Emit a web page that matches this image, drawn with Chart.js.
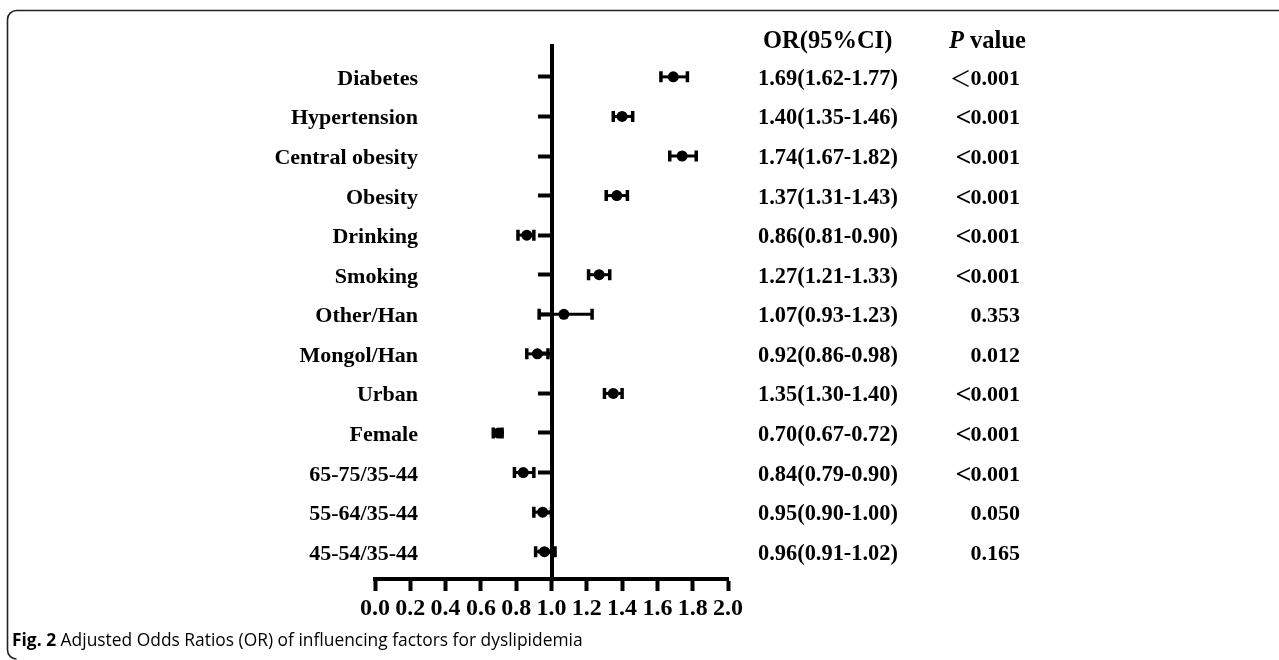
<!DOCTYPE html>
<html><head><meta charset="utf-8">
<script src="https://cdn.jsdelivr.net/npm/chart.js@4.4.1/dist/chart.umd.min.js"></script>
<style>html,body{margin:0;padding:0;background:#fff;overflow:hidden;} canvas{display:block;}</style>
</head><body>
<canvas id="c" width="1279" height="660"></canvas>
<script>
const categories = ["Diabetes","Hypertension","Central obesity","Obesity","Drinking","Smoking","Other/Han","Mongol/Han","Urban","Female","65-75/35-44","55-64/35-44","45-54/35-44"];
const orValues = [1.69,1.40,1.74,1.37,0.86,1.27,1.07,0.92,1.35,0.70,0.84,0.95,0.96];
const ciLower  = [1.62,1.35,1.67,1.31,0.81,1.21,0.93,0.86,1.30,0.67,0.79,0.90,0.91];
const ciUpper  = [1.77,1.46,1.82,1.43,0.90,1.33,1.23,0.98,1.40,0.72,0.90,1.00,1.02];
const orText = ["1.69(1.62-1.77)","1.40(1.35-1.46)","1.74(1.67-1.82)","1.37(1.31-1.43)","0.86(0.81-0.90)","1.27(1.21-1.33)","1.07(0.93-1.23)","0.92(0.86-0.98)","1.35(1.30-1.40)","0.70(0.67-0.72)","0.84(0.79-0.90)","0.95(0.90-1.00)","0.96(0.91-1.02)"];
const pText = ["＜0.001","<0.001","<0.001","<0.001","<0.001","<0.001","0.353","0.012","<0.001","<0.001","<0.001","0.050","0.165"];
const xTicks = [0.0,0.2,0.4,0.6,0.8,1.0,1.2,1.4,1.6,1.8,2.0];
const headerOR = "OR(95%CI)";
const headerP = ["P"," value"];
const captionBold = "Fig. 2";
const captionText = " Adjusted Odds Ratios (OR) of influencing factors for dyslipidemia";

const SERIF = "'Liberation Serif','Times New Roman',serif";
const SANS = "'Open Sans','Noto Sans',sans-serif";
const CJK = "'Noto Sans CJK SC',sans-serif";

const errorBars = {
  id: 'errorBars',
  beforeDatasetsDraw(chart) {
    const ctx = chart.ctx, xs = chart.scales.x, ys = chart.scales.y;
    ctx.save();
    ctx.strokeStyle = '#000';
    ctx.lineCap = 'butt';
    categories.forEach((c, i) => {
      const y = ys.getPixelForValue(i);
      const x1 = xs.getPixelForValue(ciLower[i]);
      const x2 = xs.getPixelForValue(ciUpper[i]);
      ctx.lineWidth = 3;
      ctx.beginPath(); ctx.moveTo(x1, y); ctx.lineTo(x2, y); ctx.stroke();
      ctx.lineWidth = 3.5;
      ctx.beginPath();
      ctx.moveTo(x1, y - 5.5); ctx.lineTo(x1, y + 5.5);
      ctx.moveTo(x2, y - 5.5); ctx.lineTo(x2, y + 5.5);
      ctx.stroke();
    });
    ctx.restore();
  }
};

function drawP(ctx, s, right, y) {
  let sym = '';
  let rest = s;
  if (s[0] === '＜' || s[0] === '<') { sym = s[0]; rest = s.slice(1); }
  ctx.font = "bold 22px " + SERIF;
  ctx.textAlign = 'right';
  ctx.fillText(rest, right, y);
  if (!sym) return;
  const left = right - ctx.measureText(rest).width;
  if (sym === '＜') {
    ctx.font = "22px " + CJK;
    ctx.fillText(sym, left + 1, y + 1);
  } else {
    ctx.font = "bold 28px " + SERIF;
    ctx.fillText(sym, left + 1, y + 2);
  }
}

const texts = {
  id: 'texts',
  afterDraw(chart) {
    const ctx = chart.ctx, ys = chart.scales.y;
    ctx.save();
    ctx.fillStyle = '#000';
    ctx.textBaseline = 'alphabetic';
    categories.forEach((c, i) => {
      const y = ys.getPixelForValue(i) + 8;
      ctx.font = "bold 22px " + SERIF;
      ctx.textAlign = 'right';
      ctx.fillText(c, 418, y);
      ctx.textAlign = 'left';
      ctx.font = "bold 22.4px " + SERIF;
      ctx.fillText(orText[i], 758, y);
      drawP(ctx, pText[i], 1020, y);
    });
    // headers
    ctx.textAlign = 'left';
    ctx.font = "bold 24.5px " + SERIF;
    ctx.fillText(headerOR, 763, 48);
    ctx.font = "italic bold 24.5px " + SERIF;
    ctx.fillText(headerP[0], 949, 48);
    const pw = ctx.measureText(headerP[0]).width;
    ctx.font = "bold 24.5px " + SERIF;
    ctx.fillText(headerP[1], 949 + pw, 48);
    // caption
    ctx.font = "bold 17.4px " + SANS;
    ctx.fillText(captionBold, 12, 646);
    const cw = ctx.measureText(captionBold).width;
    ctx.font = "17.4px " + SANS;
    ctx.fillText(captionText, 12 + cw, 646);
    // frame
    ctx.strokeStyle = '#222';
    ctx.lineWidth = 1.6;
    ctx.beginPath();
    ctx.moveTo(1279, 10.5);
    ctx.lineTo(16, 10.5);
    ctx.arcTo(7.5, 10.5, 7.5, 19, 9);
    ctx.lineTo(7.5, 650);
    ctx.arcTo(7.5, 659, 16, 659, 9);
    ctx.stroke();
    ctx.restore();
  }
};

new Chart(document.getElementById('c'), {
  type: 'scatter',
  data: {
    datasets: [{
      data: orValues.map((v, i) => ({x: v, y: i})),
      pointRadius: 5.5,
      pointBackgroundColor: '#000',
      pointBorderColor: '#000',
      pointBorderWidth: 0,
      pointStyle: 'circle',
      showLine: false,
      clip: false
    }]
  },
  options: {
    responsive: false,
    animation: false,
    events: [],
    layout: {padding: {left: 375, top: 46, right: 551, bottom: 0}},
    plugins: {legend: {display: false}, tooltip: {enabled: false}},
    scales: {
      x: {
        type: 'linear', position: 'bottom', min: 0, max: 2,
        afterBuildTicks: s => { s.ticks = xTicks.map(v => ({value: v})); },
        afterFit: s => { s.height = 81; },
        ticks: {autoSkip: false, maxRotation: 0, minRotation: 0, padding: 3, color: '#000',
          font: {size: 24, weight: 'bold', family: SERIF},
          callback: v => Number(v).toFixed(1)},
        grid: {drawOnChartArea: false, drawTicks: true, tickLength: 12, tickWidth: 4, tickColor: '#000'},
        border: {display: true, width: 4, color: '#000'}
      },
      y: {
        type: 'linear', reverse: true, min: -0.78, max: 12.69, position: {x: 1},
        afterBuildTicks: s => { s.ticks = categories.map((c, i) => ({value: i})); },
        afterFit: s => { s.width = 0; },
        ticks: {display: false},
        grid: {drawOnChartArea: false, drawTicks: true, tickLength: 12, tickWidth: 4, tickColor: '#000'},
        border: {display: true, width: 4, color: '#000'}
      }
    }
  },
  plugins: [errorBars, texts]
});
</script>
</body></html>
